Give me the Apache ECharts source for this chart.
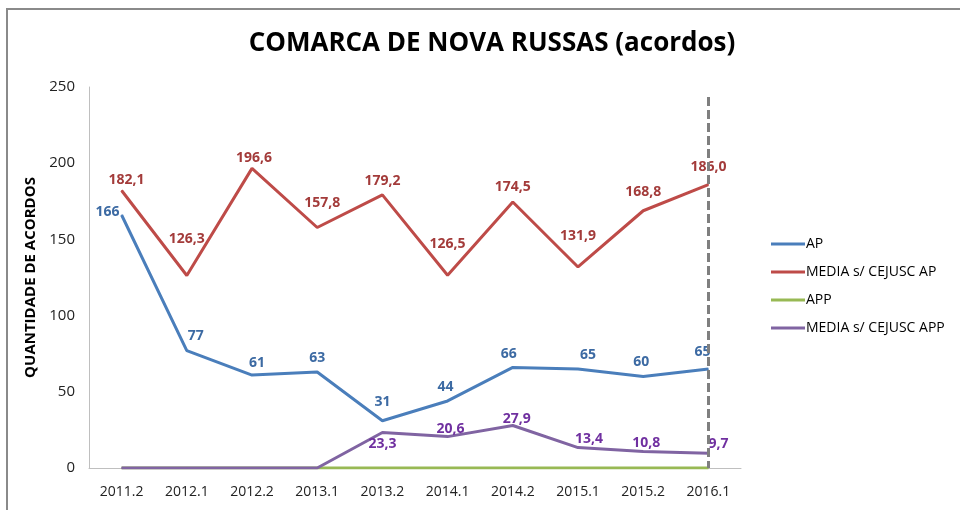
<!DOCTYPE html>
<html>
<head>
<meta charset="utf-8">
<script src="https://cdn.jsdelivr.net/npm/echarts@6/dist/echarts.min.js"></script>
<style>
  html, body { margin: 0; padding: 0; background: #fff; }
  #chart { width: 960px; height: 510px; }
</style>
</head>
<body>
<div id="chart"></div>
<script>
// Periods (semesters)
const categories = ['2011.2', '2012.1', '2012.2', '2013.1', '2013.2', '2014.1', '2014.2', '2015.1', '2015.2', '2016.1'];

// Agreements per period
const apValues = [166, 77, 61, 63, 31, 44, 66, 65, 60, 65];
const mediaApValues = [182.1, 126.3, 196.6, 157.8, 179.2, 126.5, 174.5, 131.9, 168.8, 186.0];
const appValues = [0, 0, 0, 0, 0, 0, 0, 0, 0, 0];
const mediaAppValues = [0, 0, 0, 0, 23.3, 20.6, 27.9, 13.4, 10.8, 9.7];

// Label nudges (px) for each point, so labels don't sit on the lines
const apLabelShift = [[-14, -3], [9, -15], [5, -12], [0, -14], [0, -19], [-2, -14], [-4, -13], [10, -14], [-2, -15], [-6, -17]];
const mediaApLabelShift = [[5, -10], [0, -37], [2, -10], [5, -24], [0, -14], [0, -31], [0, -15], [0, -31], [0, -19], [0, -18]];
const mediaAppLabelShift = [null, null, null, null, [0, 12], [3, -8], [4, -6], [11, -9], [3, -9], [10, -9]];

const FONT = 'Open Sans';

function withLabels(values, shifts, color, fmt) {
  return values.map(function (v, i) {
    const s = shifts[i];
    if (!s) return { value: v, label: { show: false } };
    return {
      value: v,
      label: {
        show: true,
        position: 'inside',
        offset: s,
        align: 'center',
        verticalAlign: 'middle',
        color: color,
        fontFamily: FONT,
        fontWeight: 'bold',
        fontSize: 14,
        formatter: function (p) { return fmt(p.value); }
      }
    };
  });
}
const intFmt = function (v) { return String(Math.round(v)); };
const decFmt = function (v) { return v.toFixed(1).replace('.', ','); };

function lineSeries(name, data, color, z) {
  return {
    name: name,
    type: 'line',
    data: data,
    symbol: 'circle',
    symbolSize: 1,
    showSymbol: true,
    lineStyle: { color: color, width: 3 },
    itemStyle: { color: color },
    z: z
  };
}

const chart = echarts.init(document.getElementById('chart'), null, { renderer: 'canvas' });

chart.setOption({
  animation: false,
  backgroundColor: '#fff',
  title: {
    text: 'COMARCA DE NOVA RUSSAS (acordos)',
    left: 487,
    textAlign: 'center',
    top: 26,
    textStyle: { fontFamily: FONT, fontWeight: 'bold', fontSize: 26, color: '#000' }
  },
  graphic: [{
    type: 'rect',
    shape: { x: 7, y: 9, width: 1000, height: 600 },
    style: { fill: 'none', stroke: '#8a8a8a', lineWidth: 2 },
    silent: true,
    z: 0
  }],
  legend: {
    orient: 'vertical',
    left: 766,
    top: 232,
    itemWidth: 34,
    itemHeight: 3,
    itemGap: 14,
    icon: 'rect',
    textStyle: { fontFamily: FONT, fontSize: 14, color: '#000', padding: [0, 0, 0, -4] },
    data: ['AP', 'MEDIA s/ CEJUSC AP', 'APP', 'MEDIA s/ CEJUSC APP']
  },
  grid: { left: 89, right: 219, top: 87, bottom: 42, containLabel: false },
  xAxis: {
    type: 'category',
    data: categories,
    boundaryGap: true,
    axisLine: { lineStyle: { color: '#bfbfbf', width: 1 } },
    axisTick: { show: false },
    axisLabel: { fontFamily: FONT, fontSize: 14, color: '#222', margin: 17 }
  },
  yAxis: {
    type: 'value',
    min: 0,
    max: 250,
    interval: 50,
    name: 'QUANTIDADE DE ACORDOS',
    nameLocation: 'middle',
    nameRotate: 90,
    nameGap: 47,
    nameTextStyle: { fontFamily: FONT, fontWeight: 'bold', fontSize: 15, color: '#000' },
    axisLine: { show: true, lineStyle: { color: '#bfbfbf', width: 1 } },
    axisTick: { show: false },
    splitLine: { show: false },
    axisLabel: { fontFamily: FONT, fontSize: 15, color: '#222', margin: 14 }
  },
  series: [
    lineSeries('AP', withLabels(apValues, apLabelShift, '#3c6aa3', intFmt), '#4a7ebb', 3),
    lineSeries('MEDIA s/ CEJUSC AP', withLabels(mediaApValues, mediaApLabelShift, '#a33b3a', decFmt), '#be4b48', 3),
    lineSeries('APP', appValues, '#98b954', 2),
    lineSeries('MEDIA s/ CEJUSC APP', withLabels(mediaAppValues, mediaAppLabelShift, '#7030a0', decFmt), '#8064a2', 3),
    {
      // dashed marker at the latest period
      name: 'marker',
      type: 'line',
      data: [],
      z: 4,
      markLine: {
        silent: true,
        symbol: ['none', 'none'],
        label: { show: false },
        lineStyle: { color: '#7f7f7f', width: 3, type: [9, 4] },
        data: [[{ coord: ['2016.1', 243.5] }, { coord: ['2016.1', 0] }]]
      }
    }
  ]
});
</script>
</body>
</html>
